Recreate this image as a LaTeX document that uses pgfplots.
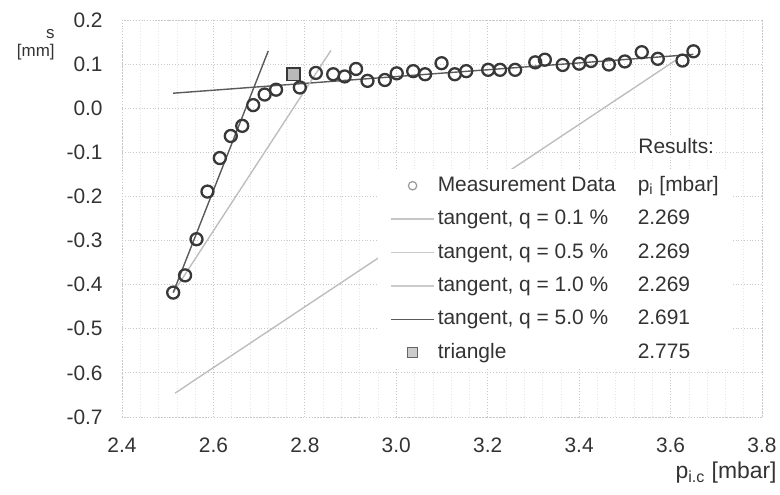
\documentclass[border=0pt]{standalone}
\usepackage{fontspec}
\setmainfont{Liberation Sans}
\usepackage{pgfplots}
\pgfplotsset{compat=1.18}
\definecolor{txt}{HTML}{333333}
\definecolor{mk}{HTML}{383838}
\definecolor{lgt}{HTML}{BEBEBE}
\definecolor{drk}{HTML}{5A5A5A}
\definecolor{grd}{HTML}{C8C8C8}
\pgfplotsset{
  lgline/.style={legend image code/.code={\draw[##1] (0bp,0bp) -- (21.5bp,0bp);}},
  lgmark/.style={legend image code/.code={\draw[mark repeat=2,mark phase=2,##1] plot coordinates {(0bp,0bp) (10.75bp,0bp) (21.5bp,0bp)};}},
}
\pgfplotstableread{
x y
2.512 -0.418
2.538 -0.379
2.563 -0.297
2.587 -0.189
2.614 -0.113
2.638 -0.063
2.663 -0.040
2.687 0.007
2.712 0.031
2.737 0.042
2.789 0.047
2.824 0.080
2.862 0.077
2.887 0.072
2.912 0.089
2.937 0.062
2.975 0.064
3.001 0.079
3.037 0.084
3.063 0.077
3.099 0.102
3.128 0.077
3.153 0.084
3.201 0.087
3.227 0.087
3.260 0.087
3.304 0.104
3.325 0.110
3.364 0.098
3.400 0.101
3.426 0.107
3.465 0.099
3.500 0.106
3.537 0.127
3.572 0.112
3.626 0.108
3.650 0.129
}\meas
\begin{document}
\begin{tikzpicture}
\begin{axis}[
  name=ax,
  scale only axis, width=320bp, height=198.5bp,
  xmin=2.4, xmax=3.8, ymin=-0.7, ymax=0.2,
  clip=false,
  xtick={2.4,2.6,2.8,3.0,3.2,3.4,3.6,3.8},
  xticklabels={2.4,2.6,2.8,3.0,3.2,3.4,3.6,3.8},
  ytick={-0.7,-0.6,-0.5,-0.4,-0.3,-0.2,-0.1,0,0.1,0.2},
  yticklabels={-0.7,-0.6,-0.5,-0.4,-0.3,-0.2,-0.1,0.0,0.1,0.2},
  minor x tick num=4,
  grid=both,
  major grid style={grd, densely dotted, line width=0.45bp},
  minor grid style={grd!45, densely dotted, line width=0.3bp},
  axis line style={grd, densely dotted, line width=0.45bp},
  tick style={draw=none},
  ticklabel style={font=\fontsize{10.5}{12}\selectfont, text=txt, inner sep=0pt},
  xticklabel style={anchor=center, yshift=-14bp},
  yticklabel style={anchor=east, xshift=-9.5bp},
  legend cell align=left,
  legend style={at={(0.4,0.625)}, anchor=north west, draw=none, fill=white,
    inner xsep=6bp, inner ysep=3bp, row sep=6.2bp,
    font=\fontsize{10.5}{12}\selectfont, text=txt,
    nodes={inner sep=0pt, text height=8bp, text depth=2.5bp},
    /tikz/every odd column/.append style={column sep=1.5bp}},
]
% tangent lines
\addplot[drk, line width=0.7bp, forget plot] coordinates {(2.512,0.034) (3.650,0.122)};
\addplot[lgt, line width=0.7bp, forget plot] coordinates {(2.516,-0.646) (3.610,0.108)};
\addplot[lgt, line width=0.7bp, forget plot] coordinates {(2.512,-0.418) (2.857,0.131)};
\addplot[drk, line width=0.7bp, forget plot] coordinates {(2.512,-0.418) (2.720,0.130)};
% data
\addplot[mk, line width=1.15bp, only marks, mark=o, mark size=3bp, forget plot] table[x=x,y=y] {\meas};
\addplot[mk, line width=0.8bp, only marks, mark=square*, mark size=3.2bp, fill=gray!55, forget plot] coordinates {(2.775,0.077)};
% legend
\addlegendimage{lgmark, only marks, mark=o, mark size=2.1bp, draw=gray!80, line width=0.6bp}
\addlegendentry{\makebox[100bp][l]{Measurement Data}p\textsubscript{i} [mbar]}
\addlegendimage{lgline, lgt!90, line width=0.7bp}
\addlegendentry{\makebox[100bp][l]{tangent, q = 0.1 \%}2.269}
\addlegendimage{lgline, lgt!80, line width=0.7bp}
\addlegendentry{\makebox[100bp][l]{tangent, q = 0.5 \%}2.269}
\addlegendimage{lgline, lgt!80, line width=0.7bp}
\addlegendentry{\makebox[100bp][l]{tangent, q = 1.0 \%}2.269}
\addlegendimage{lgline, drk, line width=0.7bp}
\addlegendentry{\makebox[100bp][l]{tangent, q = 5.0 \%}2.691}
\addlegendimage{lgmark, only marks, mark=square*, mark size=2.6bp, draw=gray!80!black, fill=gray!40, line width=0.5bp}
\addlegendentry{\makebox[100bp][l]{triangle}2.775}
% labels
\node[anchor=west, fill=white, inner sep=1bp, font=\fontsize{10.5}{12}\selectfont, text=txt] at (axis cs:3.5245,-0.0848) {Results:};
\node[anchor=base east, inner sep=0pt, font=\fontsize{8.5}{10}\selectfont, text=txt] at (rel axis cs:0,1) [xshift=-33.5bp, yshift=-9.5bp] {s};
\node[anchor=base east, inner sep=0pt, font=\fontsize{8.5}{10}\selectfont, text=txt] at (rel axis cs:0,1) [xshift=-33.5bp, yshift=-18.5bp] {[mm]};
\node[anchor=base east, inner sep=0pt, font=\fontsize{11.5}{13}\selectfont, text=txt] at (rel axis cs:1,0) [xshift=7.5bp, yshift=-31bp] {p\textsubscript{i.c} [mbar]};
\end{axis}
\pgfresetboundingbox
\path ([shift={(-61bp,-39bp)}]ax.south west) rectangle ([shift={(9bp,10bp)}]ax.north east);
\end{tikzpicture}
\end{document}
